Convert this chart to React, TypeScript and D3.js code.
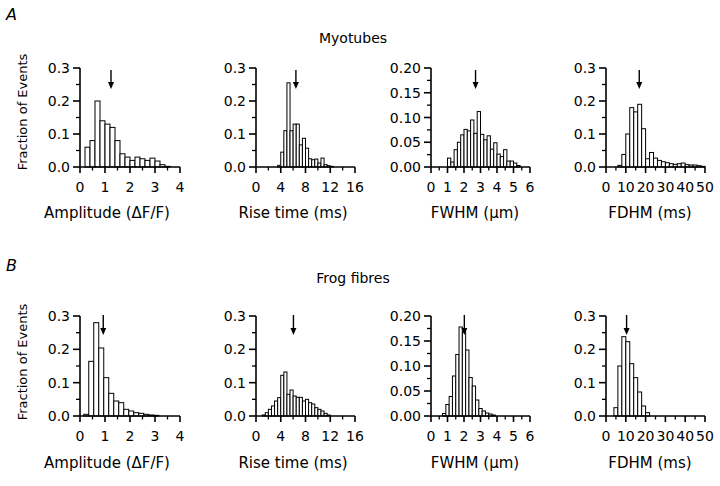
import React from 'react';
import * as d3 from 'd3';

const FONT = '"DejaVu Sans", Verdana, sans-serif';

// ---------- Data (fraction of events per bin) ----------
// A: Myotubes
const ampMyoStart = 0.2;
const ampMyoWidth = 0.2;
const ampMyoValues = [0.06, 0.08, 0.2, 0.14, 0.13, 0.12, 0.08, 0.04, 0.03, 0.02, 0.03, 0.025, 0.02, 0.027, 0.018, 0.007, 0.002];
const ampMyoMean = 1.24;

const riseMyoStart = 3.5;
const riseMyoWidth = 0.5;
const riseMyoValues = [0.005, 0.045, 0.11, 0.255, 0.11, 0.13, 0.13, 0.067, 0.087, 0.057, 0.025, 0.022, 0.024, 0.012, 0.027, 0.007, 0.004, 0.002];
const riseMyoMean = 6.45;

const fwhmMyoStart = 1.0;
const fwhmMyoWidth = 0.2;
const fwhmMyoValues = [0.018, 0.01, 0.035, 0.05, 0.065, 0.076, 0.073, 0.095, 0.068, 0.112, 0.066, 0.055, 0.063, 0.036, 0.049, 0.026, 0.021, 0.035, 0.012, 0.012, 0.008, 0.003];
const fwhmMyoMean = 2.7;

const fdhmMyoStart = 6;
const fdhmMyoWidth = 2;
const fdhmMyoValues = [0.005, 0.038, 0.1, 0.18, 0.167, 0.19, 0.116, 0.025, 0.044, 0.027, 0.02, 0.016, 0.013, 0.01, 0.008, 0.01, 0.012, 0.007, 0.006, 0.006, 0.004, 0.002];
const fdhmMyoMean = 16.8;

// B: Frog fibres
const ampFrogStart = 0.15;
const ampFrogWidth = 0.2;
const ampFrogValues = [0.005, 0.164, 0.28, 0.204, 0.115, 0.068, 0.045, 0.04, 0.02, 0.015, 0.01, 0.008, 0.005, 0.003, 0.002];
const ampFrogMean = 0.93;

const riseFrogStart = 1.0;
const riseFrogWidth = 0.5;
const riseFrogValues = [0.003, 0.01, 0.02, 0.03, 0.045, 0.055, 0.122, 0.132, 0.065, 0.078, 0.06, 0.056, 0.056, 0.045, 0.05, 0.04, 0.036, 0.025, 0.02, 0.015, 0.008, 0.003];
const riseFrogMean = 6.05;

const fwhmFrogStart = 0.7;
const fwhmFrogWidth = 0.2;
const fwhmFrogValues = [0.005, 0.023, 0.039, 0.08, 0.123, 0.178, 0.168, 0.132, 0.077, 0.06, 0.032, 0.015, 0.01, 0.006, 0.004, 0.002];
const fwhmFrogMean = 2.02;

const fdhmFrogStart = 4;
const fdhmFrogWidth = 2;
const fdhmFrogValues = [0.025, 0.15, 0.238, 0.223, 0.157, 0.115, 0.072, 0.03, 0.01];
const fdhmFrogMean = 10.4;

// ---------- Ticks ----------
const ampTicks = [0, 1, 2, 3, 4];
const ampMinor = [0.5, 1.5, 2.5, 3.5];
const riseTicks = [0, 4, 8, 12, 16];
const riseMinor = [2, 6, 10, 14];
const fwhmTicks = [0, 1, 2, 3, 4, 5, 6];
const fwhmMinor = [0.5, 1.5, 2.5, 3.5, 4.5, 5.5];
const fdhmTicks = [0, 10, 20, 30, 40, 50];
const fdhmMinor = [5, 15, 25, 35, 45];
const frac3Ticks = [0, 0.1, 0.2, 0.3];
const frac3Minor = [0.05, 0.15, 0.25];
const frac2Ticks = [0, 0.05, 0.1, 0.15, 0.2];
const frac2Minor = [0.025, 0.075, 0.125, 0.175];

const xTitles = ['Amplitude (\u0394F/F)', 'Rise time (ms)', 'FWHM (\u03bcm)', 'FDHM (ms)'];
const rowTitles = ['Myotubes', 'Frog fibres'];
const rowLetters = ['A', 'B'];
const yTitle = 'Fraction of Events';

type PanelDef = {
  x0: number; x1: number; yTop: number; yBottom: number;
  xMax: number; yMax: number;
  xTicks: number[]; xMinor: number[]; yTicks: number[]; yMinor: number[]; yDigits: number;
  start: number; width: number; values: number[]; mean: number;
  arrowTop: number; arrowTip: number;
  title: string; titleX: number; titleY: number;
  showY: boolean; yTitleY: number;
};

function Panel({ p }: { p: PanelDef }) {
  const x = d3.scaleLinear().domain([0, p.xMax]).range([p.x0, p.x1]);
  const y = d3.scaleLinear().domain([0, p.yMax]).range([p.yBottom, p.yTop]);
  const fmt = d3.format(`.${p.yDigits}f`);
  const ax = p.x0;
  const ay = p.yBottom;
  const mx = x(p.mean);
  return (
    <g>
      {p.values.map((v, i) => {
        const a = p.start + i * p.width;
        return (
          <rect key={i} x={x(a)} y={y(v)} width={x(a + p.width) - x(a)} height={y(0) - y(v)}
            fill="#fff" stroke="#000" strokeWidth={1} />
        );
      })}
      {/* axes */}
      <line x1={ax} x2={ax} y1={y(p.yMax)} y2={ay} stroke="#000" strokeWidth={1.6} />
      <line x1={ax} x2={x(p.xMax)} y1={ay} y2={ay} stroke="#000" strokeWidth={1.6} />
      {p.yTicks.map((t) => (
        <g key={'yt' + t}>
          <line x1={ax - 7} x2={ax} y1={y(t)} y2={y(t)} stroke="#000" strokeWidth={1.6} />
          <text x={ax - 10} y={y(t)} dy="0.36em" textAnchor="end" fontSize={14} fontFamily={FONT}>{fmt(t)}</text>
        </g>
      ))}
      {p.yMinor.map((t) => (
        <line key={'ym' + t} x1={ax - 4} x2={ax} y1={y(t)} y2={y(t)} stroke="#000" strokeWidth={1.3} />
      ))}
      {p.xTicks.map((t) => (
        <g key={'xt' + t}>
          <line x1={x(t)} x2={x(t)} y1={ay} y2={ay + 6} stroke="#000" strokeWidth={1.6} />
          <text x={x(t)} y={ay + 25} textAnchor="middle" fontSize={14} fontFamily={FONT}>{String(t)}</text>
        </g>
      ))}
      {p.xMinor.map((t) => (
        <line key={'xm' + t} x1={x(t)} x2={x(t)} y1={ay} y2={ay + 3.5} stroke="#000" strokeWidth={1.3} />
      ))}
      {/* mean arrow */}
      <line x1={mx} x2={mx} y1={p.arrowTop} y2={p.arrowTip - 5} stroke="#000" strokeWidth={1.4} />
      <path d={`M${mx - 3},${p.arrowTip - 7} L${mx + 3},${p.arrowTip - 7} L${mx},${p.arrowTip} Z`} fill="#000" />
      <text x={p.titleX} y={p.titleY} textAnchor="middle" fontSize={15} fontFamily={FONT}>{p.title}</text>
      {p.showY && (
        <text transform={`translate(27,${p.yTitleY}) rotate(-90)`} textAnchor="middle" fontSize={13} fontFamily={FONT}>{yTitle}</text>
      )}
    </g>
  );
}

const colX = [
  { x0: 80, x1: 180, titleX: 107 },
  { x0: 256, x1: 355, titleX: 293 },
  { x0: 431, x1: 530, titleX: 475 },
  { x0: 606, x1: 705, titleX: 650 },
];

function makeRow(row: number): PanelDef[] {
  const top = row === 0;
  const yTop = top ? 68 : 316;
  const yBottom = top ? 167 : 416;
  const titleY = top ? 218 : 468;
  const arrowTop = top ? 70 : 315;
  const arrowTip = top ? 89 : 335;
  const sets = top
    ? [
        { start: ampMyoStart, width: ampMyoWidth, values: ampMyoValues, mean: ampMyoMean },
        { start: riseMyoStart, width: riseMyoWidth, values: riseMyoValues, mean: riseMyoMean },
        { start: fwhmMyoStart, width: fwhmMyoWidth, values: fwhmMyoValues, mean: fwhmMyoMean },
        { start: fdhmMyoStart, width: fdhmMyoWidth, values: fdhmMyoValues, mean: fdhmMyoMean },
      ]
    : [
        { start: ampFrogStart, width: ampFrogWidth, values: ampFrogValues, mean: ampFrogMean },
        { start: riseFrogStart, width: riseFrogWidth, values: riseFrogValues, mean: riseFrogMean },
        { start: fwhmFrogStart, width: fwhmFrogWidth, values: fwhmFrogValues, mean: fwhmFrogMean },
        { start: fdhmFrogStart, width: fdhmFrogWidth, values: fdhmFrogValues, mean: fdhmFrogMean },
      ];
  const axes = [
    { xMax: 4, xTicks: ampTicks, xMinor: ampMinor, yMax: 0.3, yTicks: frac3Ticks, yMinor: frac3Minor, yDigits: 1 },
    { xMax: 16, xTicks: riseTicks, xMinor: riseMinor, yMax: 0.3, yTicks: frac3Ticks, yMinor: frac3Minor, yDigits: 1 },
    { xMax: 6, xTicks: fwhmTicks, xMinor: fwhmMinor, yMax: 0.2, yTicks: frac2Ticks, yMinor: frac2Minor, yDigits: 2 },
    { xMax: 50, xTicks: fdhmTicks, xMinor: fdhmMinor, yMax: 0.3, yTicks: frac3Ticks, yMinor: frac3Minor, yDigits: 1 },
  ];
  return sets.map((s, i) => ({
    ...s,
    ...axes[i],
    x0: colX[i].x0,
    x1: colX[i].x1,
    yTop,
    yBottom,
    arrowTop,
    arrowTip,
    title: xTitles[i],
    titleX: colX[i].titleX,
    titleY,
    showY: i === 0,
    yTitleY: top ? 112 : 362,
  }));
}

export default function App() {
  const panels = [...makeRow(0), ...makeRow(1)];
  return (
    <svg width={720} height={486} viewBox="0 0 720 486"
      style={{ position: 'absolute', left: 0, top: 0, background: '#fff' }}>
      <rect x={0} y={0} width={720} height={486} fill="#fff" />
      <text x={6} y={20} fontSize={16} fontStyle="italic" fontFamily={FONT}>{rowLetters[0]}</text>
      <text x={6} y={271} fontSize={16} fontStyle="italic" fontFamily={FONT}>{rowLetters[1]}</text>
      <text x={353} y={43} textAnchor="middle" fontSize={14} fontFamily={FONT}>{rowTitles[0]}</text>
      <text x={353} y={283} textAnchor="middle" fontSize={14} fontFamily={FONT}>{rowTitles[1]}</text>
      {panels.map((p, i) => (
        <Panel key={i} p={p} />
      ))}
    </svg>
  );
}
